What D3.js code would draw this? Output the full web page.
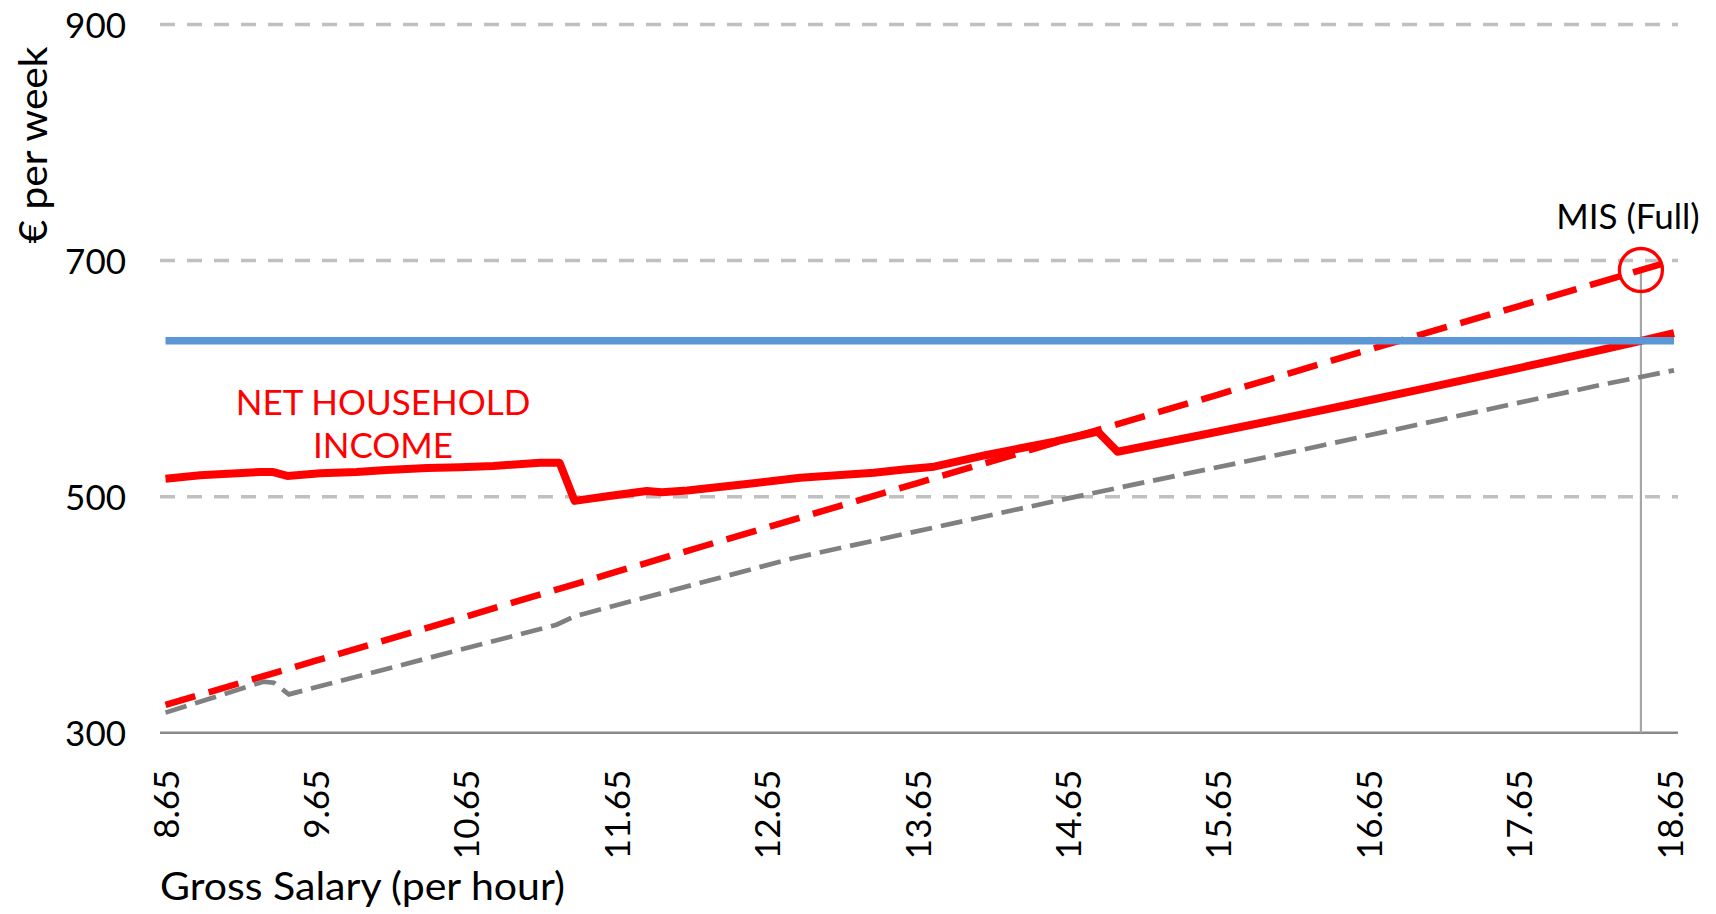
<!DOCTYPE html>
<html>
<head>
<meta charset="utf-8">
<script src="https://cdn.jsdelivr.net/npm/d3@7"></script>
<style>
  html, body { margin: 0; padding: 0; background: #ffffff; }
  svg { display: block; }
  text { font-family: Lato, "Open Sans", sans-serif; }
</style>
</head>
<body>
<svg id="chart" width="1716" height="914"></svg>
<script>
// ---- Data ----
const xTickValues = [8.65, 9.65, 10.65, 11.65, 12.65, 13.65, 14.65, 15.65, 16.65, 17.65, 18.65];
const yTickValues = [300, 500, 700, 900];

// Net household income (red solid)
const netX = [8.65, 8.88, 9.28, 9.36, 9.46, 9.68, 9.92, 10.12, 10.39, 10.61, 10.83, 11.14, 11.27, 11.37, 11.6, 11.85, 11.95, 12.12, 12.56, 12.87, 13.36, 13.56, 13.76, 14.11, 14.56, 14.85, 14.98, 15.53, 16.2, 16.53, 17.08, 17.64, 18.19, 18.46, 18.68];
const netY = [515.2, 518.1, 520.9, 520.9, 517.5, 519.8, 520.9, 522.6, 524.3, 524.9, 526.0, 528.8, 528.8, 496.4, 500.5, 504.8, 503.8, 505.2, 511.3, 516.0, 520.3, 523.0, 525.4, 535.3, 546.6, 555.0, 538.0, 552.0, 569.5, 578.3, 593.2, 608.7, 624.2, 632.0, 638.5];

// Gross weekly pay (red dashed)
const grossX = [8.65, 9.65, 10.65, 11.65, 12.65, 13.65, 14.65, 15.65, 16.65, 17.65, 18.65, 18.68];
const grossY = [323.5, 361, 398.5, 436.4, 474, 511.5, 549, 586.5, 624.5, 661.5, 699, 700];

// Net pay (grey dashed)
const netPayX = [8.65, 9.30, 9.37, 9.47, 11.25, 11.37, 12.81, 14.60, 15.0, 16.2, 18.19, 18.68];
const netPayY = [317, 343.2, 342.4, 332.5, 391.5, 398.6, 447.4, 497.2, 507.9, 539.5, 594.6, 607];

// Minimum Income Standard (blue)
const misX = [8.65, 18.68];
const misY = [632, 632];

// MIS (Full) marker
const misPointX = 18.46;
const misPointY = 692;

// ---- Layout ----
const svg = d3.select("#chart");
const plotLeft = 160, plotRight = 1678;
const yTop = 24.5, yBottom = 732.7;

const x = d3.scaleLinear().domain([8.65, 18.65]).range([165.5, 1669.5]);
const y = d3.scaleLinear().domain([300, 900]).range([yBottom, yTop]);

const zip = (xs, ys) => xs.map((v, i) => [v, ys[i]]);
const line = d3.line().x(d => x(d[0])).y(d => y(d[1]));

// Gridlines
svg.append("g")
  .selectAll("line")
  .data(yTickValues.filter(v => v !== 300))
  .join("line")
  .attr("x1", plotLeft).attr("x2", plotRight)
  .attr("y1", d => y(d)).attr("y2", d => y(d))
  .attr("stroke", "#c0c0c0")
  .attr("stroke-width", 3.5)
  .attr("stroke-dasharray", "15 12");

// Y axis labels
const yAxis = d3.axisLeft(y).tickValues(yTickValues).tickSize(0).tickPadding(0);
const gy = svg.append("g").attr("transform", "translate(126,0)").call(yAxis);
gy.select(".domain").remove();
gy.selectAll("text")
  .attr("font-size", 35)
  .attr("fill", "#000")
  .style("font-family", "Lato, sans-serif")
  .attr("dy", "0.36em");

// X axis
const xAxis = d3.axisBottom(x).tickValues(xTickValues).tickFormat(d => d.toFixed(2)).tickSize(0);
const gx = svg.append("g").attr("transform", `translate(0,${yBottom})`).call(xAxis);
gx.select(".domain").remove();
gx.selectAll("text")
  .attr("font-size", 35)
  .attr("fill", "#000")
  .style("font-family", "Lato, sans-serif")
  .attr("text-anchor", "end")
  .attr("transform", "translate(0,37) rotate(-90)")
  .attr("x", 0)
  .attr("y", 0)
  .attr("dy", "0.36em");

svg.append("line")
  .attr("x1", plotLeft).attr("x2", plotRight)
  .attr("y1", yBottom).attr("y2", yBottom)
  .attr("stroke", "#898989").attr("stroke-width", 2.5);

// MIS vertical line
svg.append("line")
  .attr("x1", x(misPointX)).attr("x2", x(misPointX))
  .attr("y1", y(misPointY)).attr("y2", yBottom)
  .attr("stroke", "#a6a6a6").attr("stroke-width", 2.2);

// Series
svg.append("path").datum(zip(grossX, grossY))
  .attr("d", line).attr("fill", "none")
  .attr("stroke", "#ff0000").attr("stroke-width", 6.5)
  .attr("stroke-dasharray", "31 14");

svg.append("path").datum(zip(netPayX, netPayY))
  .attr("d", line).attr("fill", "none")
  .attr("stroke", "#808080").attr("stroke-width", 4.7)
  .attr("stroke-dasharray", "22 9");

svg.append("path").datum(zip(netX, netY))
  .attr("d", line).attr("fill", "none")
  .attr("stroke", "#ff0000").attr("stroke-width", 8)
  .attr("stroke-linejoin", "round");

svg.append("path").datum(zip(misX, misY))
  .attr("d", line).attr("fill", "none")
  .attr("stroke", "#5b96d6").attr("stroke-width", 7.5);

// MIS marker circle
svg.append("circle")
  .attr("cx", x(misPointX)).attr("cy", y(misPointY))
  .attr("r", 21.5)
  .attr("fill", "none").attr("stroke", "#ff0000").attr("stroke-width", 3.3);

// Annotations
svg.append("text")
  .attr("x", 1628).attr("y", 229)
  .attr("text-anchor", "middle")
  .attr("font-size", 35).attr("fill", "#000")
  .text("MIS (Full)");

const netLabel = svg.append("text")
  .attr("text-anchor", "middle")
  .attr("font-size", 35).attr("fill", "#ff0000");
netLabel.append("tspan").attr("x", 383).attr("y", 415).text("NET HOUSEHOLD");
netLabel.append("tspan").attr("x", 383).attr("y", 458).text("INCOME");

// Axis titles
svg.append("text")
  .attr("x", 160).attr("y", 900)
  .attr("font-size", 38).attr("fill", "#000")
  .attr("textLength", 405).attr("lengthAdjust", "spacingAndGlyphs")
  .text("Gross Salary (per hour)");

svg.append("text")
  .attr("transform", "translate(47,145) rotate(-90)")
  .attr("text-anchor", "middle")
  .attr("font-size", 38).attr("fill", "#000")
  .attr("textLength", 197).attr("lengthAdjust", "spacingAndGlyphs")
  .text("€ per week");
</script>
</body>
</html>
